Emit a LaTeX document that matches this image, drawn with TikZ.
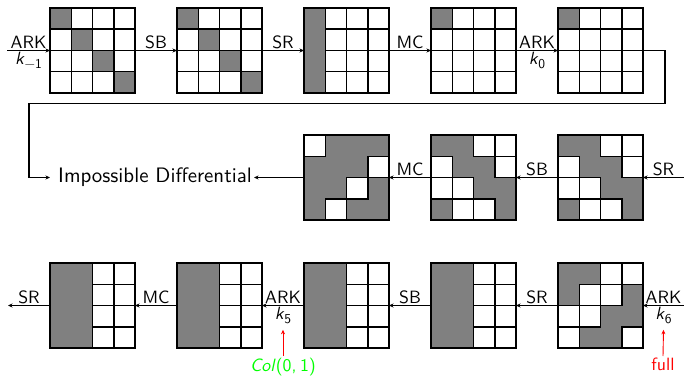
\documentclass[tikz,border=0pt]{standalone}
\usepackage{fontspec}
\setsansfont{lmsans10-regular.otf}[ItalicFont=lmsans10-oblique.otf]
\usetikzlibrary{arrows.meta}
\tikzset{
 gridbox/.style={rectangle, draw=none, fill=gray, minimum size=85pt, inner sep=0pt, outer sep=0pt},
 cell/.style={draw=black, line width=1.5pt, fill=white},
 gframe/.style={draw=black, line width=1.6pt},
 arr/.style={-{Stealth[length=4.5pt,width=4pt]}, line width=1.1pt},
 lbl/.style={font=\fontsize{17.8}{18}\selectfont\sffamily, inner sep=1.5pt},
 bigtxt/.style={font=\fontsize{20.9}{22}\selectfont\sffamily, inner sep=2pt},
}
\newcommand\aesgrid[4]{%
  \node[gridbox] (#1) at (#2+42.5,#3+42.5) {};
  \foreach \rr/\cc in {#4} {\draw[cell] (#2+\cc*21.25,#3+\rr*21.25) rectangle ++(21.25,21.25);}
  \draw[gframe] (#1.north west) rectangle (#1.south east);
}
\newcommand\kk[1]{\textit{k}\raisebox{-0.45ex}{\fontsize{13.5}{12}\selectfont #1}}
\begin{document}
\begin{tikzpicture}[x=1pt,y=-1pt]
\useasboundingbox (0,0) rectangle (684,377);
% row 1
\aesgrid{a1}{50}{8}{0/1,0/2,0/3,1/0,1/2,1/3,2/0,2/1,2/3,3/0,3/1,3/2}
\aesgrid{a2}{177}{8}{0/1,0/2,0/3,1/0,1/2,1/3,2/0,2/1,2/3,3/0,3/1,3/2}
\aesgrid{a3}{304}{8}{0/1,0/2,0/3,1/1,1/2,1/3,2/1,2/2,2/3,3/1,3/2,3/3}
\aesgrid{a4}{431}{8}{0/1,0/2,0/3,1/0,1/1,1/2,1/3,2/0,2/1,2/2,2/3,3/0,3/1,3/2,3/3}
\aesgrid{a5}{558}{8}{0/1,0/2,0/3,1/0,1/1,1/2,1/3,2/0,2/1,2/2,2/3,3/0,3/1,3/2,3/3}
% row 2
\aesgrid{b1}{304}{135}{0/0,1/3,2/2,3/1}
\aesgrid{b2}{431}{135}{0/2,0/3,1/0,1/3,2/0,2/1,3/1,3/2}
\aesgrid{b3}{558}{135}{0/2,0/3,1/0,1/3,2/0,2/1,3/1,3/2}
% row 3
\aesgrid{c1}{50}{263}{0/2,0/3,1/2,1/3,2/2,2/3,3/2,3/3}
\aesgrid{c2}{177}{263}{0/2,0/3,1/2,1/3,2/2,2/3,3/2,3/3}
\aesgrid{c3}{304}{263}{0/2,0/3,1/2,1/3,2/2,2/3,3/2,3/3}
\aesgrid{c4}{431}{263}{0/2,0/3,1/2,1/3,2/2,2/3,3/2,3/3}
\aesgrid{c5}{558}{263}{0/2,0/3,1/1,1/2,2/0,2/1,3/0,3/3}
% free ends
\coordinate (s1) at (7,50.5);
\coordinate (e2) at (684,177.5);
\coordinate (e3) at (684,305.5);
\coordinate (s3) at (8,305.5);
\coordinate (l1) at (665,103.5);
\coordinate (l2) at (29,103.5);
\node[bigtxt, anchor=west] (imp) at (56,177.5) {Impossible Differential};
\coordinate (l3) at ([xshift=-6pt]imp.west);
% row 1 arrows
\draw[arr] (s1) -- node[lbl,above] (t1) {ARK} node[lbl,below] (t1k) {\kk{−1}} (a1.west);
\draw[arr] (a1.east) -- node[lbl,above] (t2) {SB} (a2.west);
\draw[arr] (a2.east) -- node[lbl,above] (t3) {SR} (a3.west);
\draw[arr] (a3.east) -- node[lbl,above] (t4) {MC} (a4.west);
\draw[arr] (a4.east) -- node[lbl,above] (t5) {ARK} node[lbl,below] (t5k) {\kk{0}} (a5.west);
% loop
\draw[arr] (a5.east) -| (l1) -- (l2) |- (l3);
% row 2 arrows
\draw[arr] (e2) -- node[lbl,above] (u1) {SR} (b3.east);
\draw[arr] (b3.west) -- node[lbl,above] (u2) {SB} (b2.east);
\draw[arr] (b2.west) -- node[lbl,above] (u3) {MC} (b1.east);
\draw[arr] (b1.west) -- (imp.east);
% row 3 arrows
\draw[arr] (e3) -- node[lbl,above] (v1) {ARK} node[lbl,below] (v1k) {\kk{6}} (c5.east);
\draw[arr] (c5.west) -- node[lbl,above] (v2) {SR} (c4.east);
\draw[arr] (c4.west) -- node[lbl,above] (v3) {SB} (c3.east);
\draw[arr] (c3.west) -- node[lbl,above] (v4) {ARK} node[lbl,below] (v4k) {\kk{5}} (c2.east);
\draw[arr] (c2.west) -- node[lbl,above] (v5) {MC} (c1.east);
\draw[arr] (c1.west) -- node[lbl,above] (v6) {SR} (s3);
% key notes
\node[lbl, text=green, anchor=north] (col) at (283,356) {\textit{Col}(0,\kern3.5pt1)};
\node[lbl, text=red, anchor=north] (full) at (663,356) {full};
\draw[arr, draw=red, line width=0.9pt] (col.north) -- ([yshift=-4pt]v4k.south);
\draw[arr, draw=red, line width=0.9pt] (full.north) -- ([yshift=-4pt]v1k.south);
\end{tikzpicture}
\end{document}
